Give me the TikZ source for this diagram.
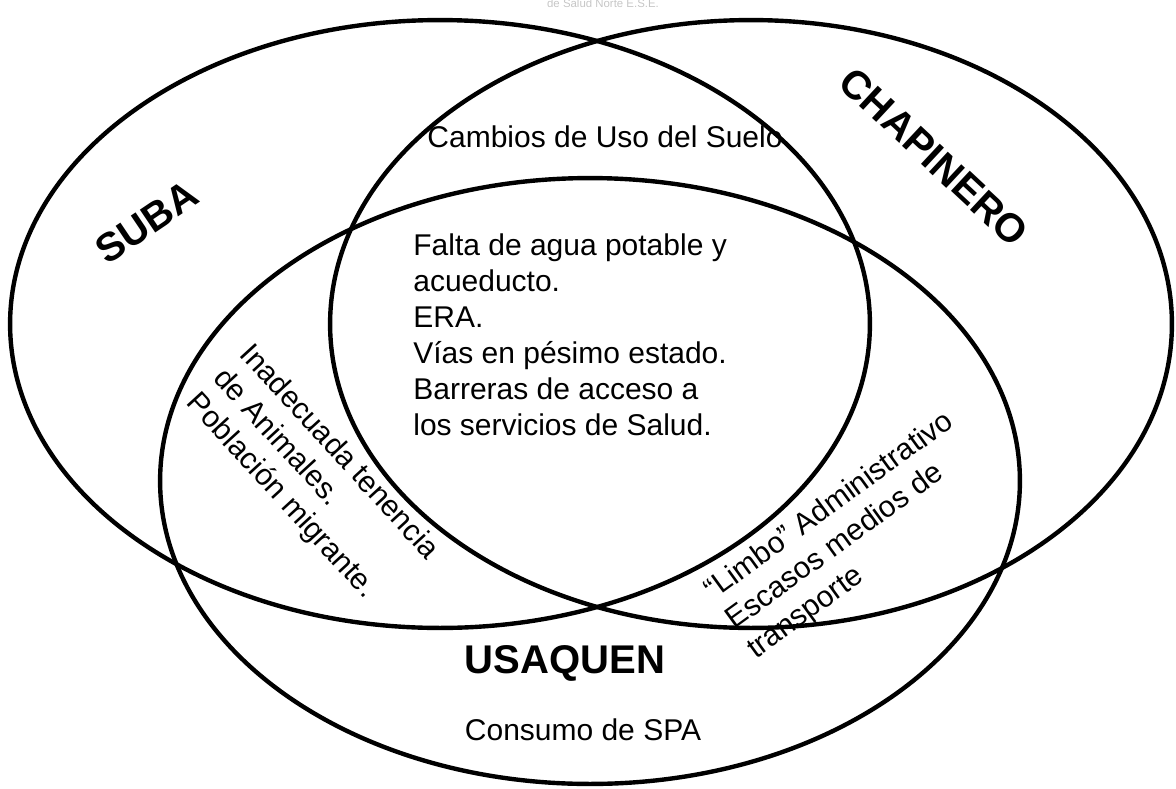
\documentclass[tikz,border=0pt]{standalone}
\usepackage{fontspec}
\setmainfont{Liberation Sans}
\usetikzlibrary{shapes.geometric, positioning}
\tikzset{every node/.append style={align=center, inner sep=0pt}}

\begin{document}
\begin{tikzpicture}[
    x=0.02cm, y=-0.02cm,
    region/.style={ellipse, draw=black, line width=2.5pt, inner sep=0pt},
    zone/.style={font=\fontsize{22.8}{26}\selectfont\bfseries},
    issue/.style={font=\fontsize{17.07}{20.5}\selectfont, align=left}
]
\useasboundingbox (0,0) rectangle (1176,788);
% the three localities
\node[region, minimum width=17.2cm, minimum height=12.16cm] (suba) at (440,324) {};
\node[region, minimum width=16.84cm, minimum height=12.16cm] (chap) at (751,324) {};
\node[region, minimum width=17.2cm, minimum height=12.12cm] (usaq) at (590,481) {};
% names
\node[zone, rotate=34] (tsuba) at (147,222) {SUBA};
\node[zone, rotate=-43] (tchap) at (934,157) {CHAPINERO};
\node[zone] (tusaq) at (565,663) {USAQUEN};
% problems per zone
\node[font=\fontsize{6.5}{8}\selectfont, text=gray!45] (fuente) at (603,3) {de Salud Norte E.S.E.};
\node[issue] (suelo) at (605,137) {Cambios de Uso del Suelo};
\node[issue, anchor=north west] (comun) at (413,233)
    {Falta de agua potable y\\acueducto.\\ERA.\\Vías en pésimo estado.\\Barreras de acceso a\\los servicios de Salud.};
\node[issue, rotate=-47.5] (animales) at (312,477)
    {Inadecuada tenencia\\de Animales.\\Población migrante.};
\node[issue, rotate=36] (limbo) at (851,536)
    {“Limbo” Administrativo\\Escasos medios de\\transporte};
\node[issue] (spa) at (583,730) {Consumo de SPA};
\end{tikzpicture}
\end{document}
